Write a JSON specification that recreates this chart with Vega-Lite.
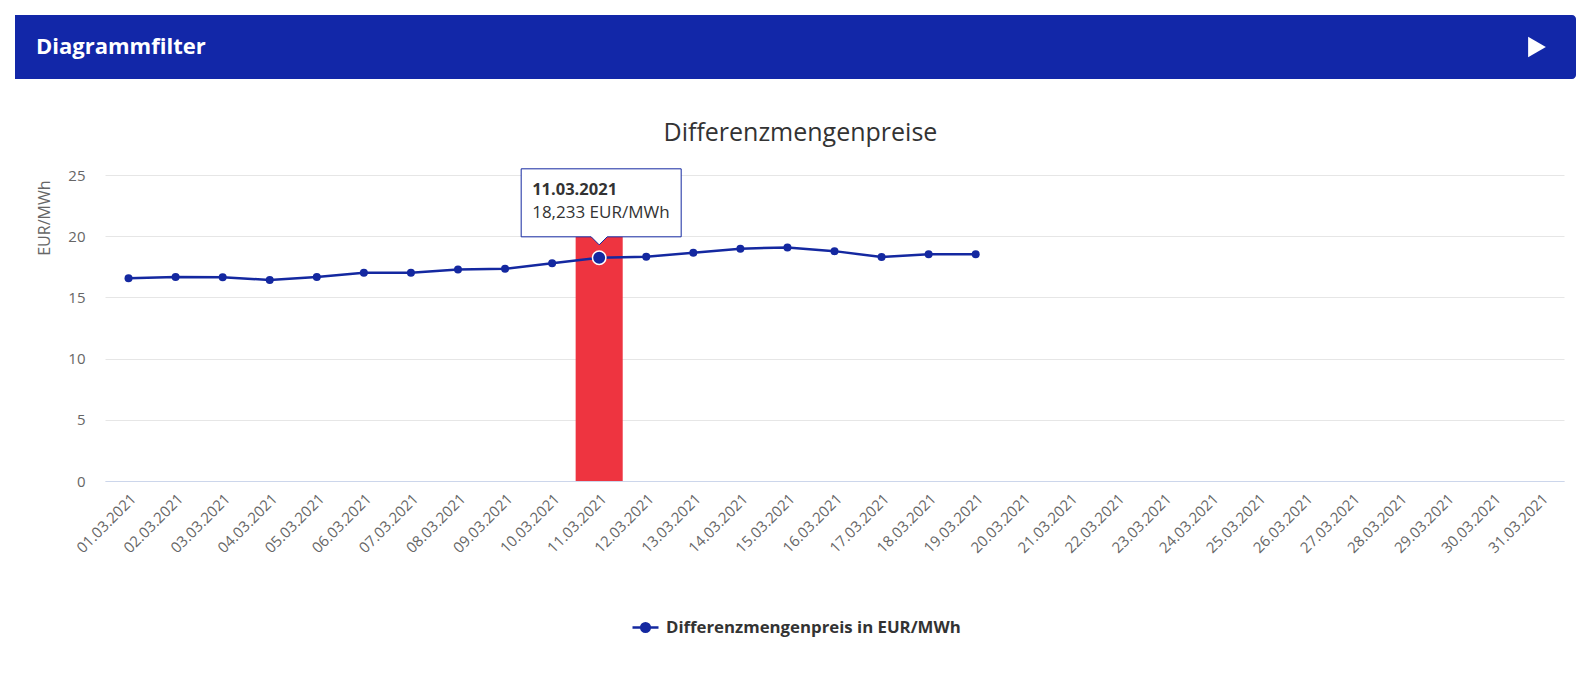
{
  "$schema": "https://vega.github.io/schema/vega-lite/v6.json",
  "background": "white",
  "padding": {"left": 15, "top": 15, "right": 8, "bottom": 5},
  "config": {
    "font": "Open Sans",
    "view": {"stroke": null},
    "legend": {"layout": {"bottom": {"anchor": "middle"}}}
  },
  "datasets": {
    "prices": [
      {"date": "01.03.2021", "value": 16.56},
      {"date": "02.03.2021", "value": 16.66},
      {"date": "03.03.2021", "value": 16.64},
      {"date": "04.03.2021", "value": 16.42},
      {"date": "05.03.2021", "value": 16.66},
      {"date": "06.03.2021", "value": 17.02},
      {"date": "07.03.2021", "value": 17.02},
      {"date": "08.03.2021", "value": 17.28},
      {"date": "09.03.2021", "value": 17.34},
      {"date": "10.03.2021", "value": 17.79},
      {"date": "11.03.2021", "value": 18.233},
      {"date": "12.03.2021", "value": 18.32},
      {"date": "13.03.2021", "value": 18.65},
      {"date": "14.03.2021", "value": 18.98},
      {"date": "15.03.2021", "value": 19.08},
      {"date": "16.03.2021", "value": 18.78},
      {"date": "17.03.2021", "value": 18.30},
      {"date": "18.03.2021", "value": 18.53},
      {"date": "19.03.2021", "value": 18.53}
    ],
    "highlight": [{"date": "11.03.2021", "value": 20}],
    "annotation": [{"date": "11.03.2021", "value": 18.233, "head": "11.03.2021", "body": "18,233 EUR/MWh"}]
  },
  "concat": [
    {
      "width": 1471,
      "height": 64,
      "view": {"fill": "#1227a8", "stroke": null, "cornerRadius": 4},
      "layer": [
        {
          "data": {"values": [{"item": "Diagrammfilter"}]},
          "mark": {"type": "text", "align": "left", "baseline": "middle", "dx": -69, "font": "Open Sans", "fontWeight": "bold", "fontSize": 22, "fill": "white"},
          "encoding": {
            "x": {"field": "item", "type": "nominal", "axis": null,
                  "scale": {"type": "point", "domain": ["Diagrammfilter", "arrow"], "padding": 0}},
            "y": {"datum": 0.5, "type": "quantitative", "scale": {"domain": [0, 1]},
                  "axis": {"orient": "left", "title": null, "labels": false, "ticks": false, "grid": false, "translate": 0,
                           "domain": true, "domainColor": "#1227a8", "domainWidth": 180, "offset": 0, "minExtent": 90, "maxExtent": 90, "domainCap": "butt"}},
            "text": {"field": "item"}
          }
        },
        {
          "data": {"values": [{"item": "arrow"}]},
          "mark": {"type": "point", "shape": "triangle-right", "size": 420, "filled": true, "fill": "white", "opacity": 1, "xOffset": -39},
          "encoding": {
            "x": {"field": "item", "type": "nominal", "axis": null}
          }
        }
      ]
    },
    {
      "width": 1459,
      "height": 306,
      "title": {"text": "Differenzmengenpreise", "fontSize": 25, "font": "Open Sans", "fontWeight": "normal", "color": "#333333", "offset": 21, "frame": "bounds"},
      "encoding": {
        "x": {
          "field": "date", "type": "nominal", "title": null,
          "scale": {"type": "band", "paddingInner": 0, "paddingOuter": 0,
            "domain": ["01.03.2021","02.03.2021","03.03.2021","04.03.2021","05.03.2021","06.03.2021","07.03.2021","08.03.2021","09.03.2021","10.03.2021","11.03.2021","12.03.2021","13.03.2021","14.03.2021","15.03.2021","16.03.2021","17.03.2021","18.03.2021","19.03.2021","20.03.2021","21.03.2021","22.03.2021","23.03.2021","24.03.2021","25.03.2021","26.03.2021","27.03.2021","28.03.2021","29.03.2021","30.03.2021","31.03.2021"]},
          "axis": {"labelAngle": -45, "labelColor": "#666666", "labelFont": "Open Sans", "labelFontSize": 15, "domainColor": "#ccd6eb", "domainWidth": 1, "ticks": false, "grid": false, "labelPadding": 10}
        },
        "y": {
          "field": "value", "type": "quantitative",
          "scale": {"domain": [0, 25], "nice": false},
          "axis": {"title": "EUR/MWh", "titleFont": "Open Sans", "titleFontWeight": "normal", "titleFontSize": 16, "titleColor": "#666666", "titleAlign": "right", "titleY": 5, "titlePadding": 15,
                   "values": [0, 5, 10, 15, 20, 25], "labelColor": "#666666", "labelFont": "Open Sans", "labelFontSize": 15, "labelPadding": 20,
                   "domain": false, "ticks": false, "gridColor": "#e6e6e6", "gridWidth": 1}
        }
      },
      "layer": [
        {
          "data": {"name": "highlight"},
          "mark": {"type": "bar", "color": "#ee3440"}
        },
        {
          "data": {"name": "prices"},
          "mark": {"type": "line", "strokeWidth": 2.5, "point": {"filled": true, "size": 64, "opacity": 1}},
          "encoding": {
            "color": {
              "datum": "Differenzmengenpreis in EUR/MWh",
              "scale": {"range": ["#1428a0"]},
              "legend": {
                "title": null, "orient": "bottom", "direction": "horizontal", "offset": 57,
                "labelFont": "Open Sans", "labelFontSize": 16.8, "labelFontWeight": "bold", "labelColor": "#333333", "labelLimit": 0,
                "symbolType": "M-1,0 L1,0 M0.33,0 A0.33,0.33 0 1,1 -0.33,0 A0.33,0.33 0 1,1 0.33,0 Z",
                "symbolSize": 676, "labelOffset": 6,
                "encode": {"symbols": {"update": {"fill": {"value": "#1428a0"}, "stroke": {"value": "#1428a0"}, "strokeWidth": {"value": 2.5}, "opacity": {"value": 1}}}}
              }
            }
          }
        },
        {
          "data": {"name": "annotation"},
          "mark": {"type": "point", "shape": "M-0.78,-0.89 L0.82,-0.89 L0.82,-0.21 L0.08,-0.21 L0,-0.13 L-0.08,-0.21 L-0.78,-0.21 Z", "size": 40000, "filled": true, "fill": "white", "stroke": "#1428a0", "strokeWidth": 1, "opacity": 1}
        },
        {
          "data": {"name": "annotation"},
          "mark": {"type": "circle", "size": 180, "fill": "#1428a0", "stroke": "white", "strokeWidth": 1.5, "opacity": 1}
        },
        {
          "data": {"name": "annotation"},
          "mark": {"type": "text", "align": "left", "baseline": "alphabetic", "dx": -67, "dy": -63, "font": "Open Sans", "fontWeight": "bold", "fontSize": 16.5, "fill": "#333333"},
          "encoding": {"text": {"field": "head"}}
        },
        {
          "data": {"name": "annotation"},
          "mark": {"type": "text", "align": "left", "baseline": "alphabetic", "dx": -67, "dy": -40, "font": "Open Sans", "fontSize": 17, "fill": "#333333"},
          "encoding": {"text": {"field": "body"}}
        }
      ]
    }
  ],
  "columns": 1,
  "spacing": 41
}
